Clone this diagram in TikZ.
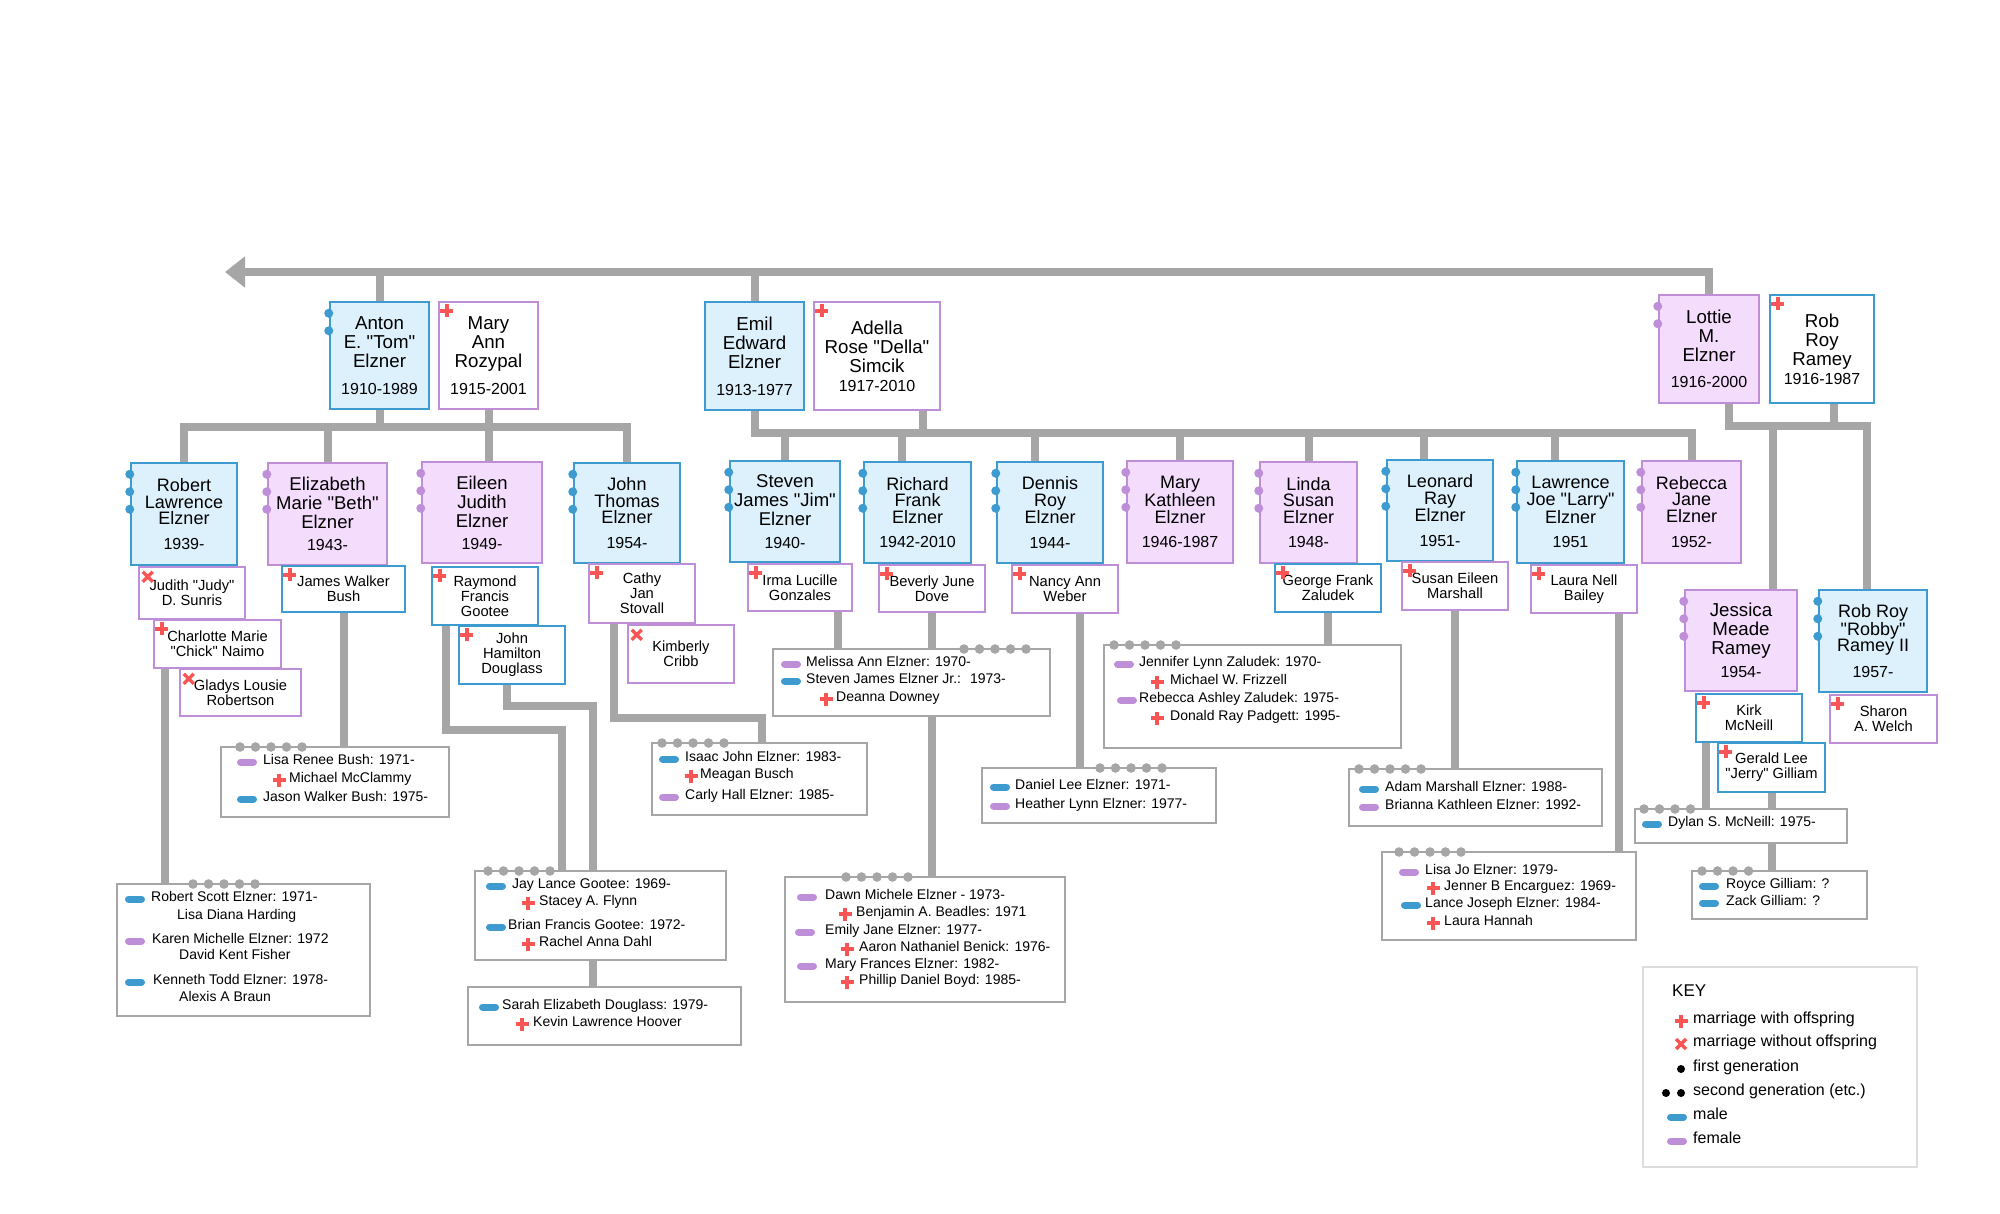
\documentclass[tikz,border=0pt]{standalone}
\usepackage{fontspec}
\setmainfont{Liberation Sans}[Ligatures=TeXOff]
\usepackage{tikz}
\usetikzlibrary{calc, arrows.meta, backgrounds}
\usepackage{xcolor}

\definecolor{mline}{HTML}{3D9BD0}
\definecolor{mfill}{HTML}{DDF1FC}
\definecolor{fline}{HTML}{BF8ED8}
\definecolor{ffill}{HTML}{F4DCFD}
\definecolor{cord}{HTML}{A6A6A6}
\definecolor{wedred}{HTML}{FA5555}
\definecolor{keyline}{HTML}{DDDDDD}

\newcommand{\bigname}{\fontsize{18.7}{19}\selectfont}
\newcommand{\tallname}{\fontsize{18.5}{19}\selectfont}
\newcommand{\kidname}{\fontsize{18}{16.5}\selectfont}
\newcommand{\yr}{\fontsize{16}{16}\selectfont}
\newcommand{\inlaw}{\fontsize{14.7}{15}\selectfont}
\newcommand{\listfont}{\fontsize{14}{14}\selectfont}
\newcommand{\keyfont}{\fontsize{16}{16}\selectfont}

\tikzset{
  man/.style={draw=mline, fill=mfill, line width=2.5pt, align=center, inner sep=1pt},
  woman/.style={draw=fline, fill=ffill, line width=2.5pt, align=center, inner sep=1pt},
  husband/.style={draw=mline, fill=white, line width=2.5pt, align=center, inner sep=1pt, font=\inlaw},
  wife/.style={draw=fline, fill=white, line width=2.5pt, align=center, inner sep=1pt, font=\inlaw},
  kidsbox/.style={draw=cord, fill=white, line width=2.5pt},
  keyframe/.style={draw=keyline, fill=white, line width=2.5pt},
  link/.style={draw=cord, line width=8pt},
  pill/.style={line width=7pt, line cap=round},
  wedline/.style={draw=wedred, line width=3.5pt},
  entry/.style={anchor=mid west, inner sep=0pt, font=\listfont},
  keyentry/.style={anchor=mid west, inner sep=0pt, font=\keyfont}
}

% box from left, right, top, bottom
\newcommand{\famnode}[7]{\node[#1, minimum width={#4-#3}, minimum height={#6-#5}] (#2) at ({(#3+#4)/2},{(#5+#6)/2}) {#7};}
\newcommand{\gens}[3]{\foreach \g in {1,...,#2} \fill[#3] ($(#1.north west)+(0,{-5+17.5*\g})$) circle (4.5pt);}
\newcommand{\wedmark}[1]{\draw[wedline] ($(#1.north west)+(2.5,10)$) -- ++(13,0) ($(#1.north west)+(9,3.5)$) -- ++(0,13);}
\newcommand{\nowedmark}[1]{\draw[wedline] ($(#1.north west)+(5,6)$) -- ++(10,10) ($(#1.north west)+(15,6)$) -- ++(-10,10);}
\newcommand{\topdots}[3]{\foreach \d in {1,...,#3} \fill[cord] ({#1+15.5*(\d-1)},#2) circle (4.8pt);}

\newcount\entryno
\newcommand{\kid}[5]{\global\advance\entryno by 1
  \draw[pill, #1] (#2-6.5,#3) -- (#2+6.5,#3);
  \node[entry] (entry\the\entryno) at (#4,#3) {#5};}
\newcommand{\wed}[4]{\global\advance\entryno by 1
  \draw[wedline] (#1-6.5,#2) -- (#1+6.5,#2) (#1,#2-6.5) -- (#1,#2+6.5);
  \node[entry] (entry\the\entryno) at (#3,#2) {#4};}
\newcommand{\plainentry}[3]{\global\advance\entryno by 1
  \node[entry] (entry\the\entryno) at (#1,#2) {#3};}

\begin{document}
\begin{tikzpicture}[x=1pt, y=-1pt]
\useasboundingbox (0,0) rectangle (2000,1213);

% first generation
\famnode{man,font=\bigname}{anton}{330}{429}{302}{409}{Anton\\E. "Tom"\\Elzner\\[8pt]{\yr 1910-1989}}
\famnode{wife,font=\bigname}{maryann}{439}{538}{302}{409}{Mary\\Ann\\Rozypal\\[8pt]{\yr 1915-2001}}
\famnode{man,font=\bigname}{emil}{705}{804}{302}{410}{Emil\\Edward\\Elzner\\[8pt]{\yr 1913-1977}}
\famnode{wife,font=\bigname}{adella}{814}{940}{302}{410}{Adella\\Rose "Della"\\Simcik\\{\yr 1917-2010}}
\famnode{woman,font=\bigname}{lottie}{1659}{1759}{295}{403}{Lottie\\M.\\Elzner\\[7pt]{\yr 1916-2000}}
\famnode{husband,font=\bigname}{robroy}{1770}{1874}{295}{403}{Rob\\Roy\\Ramey\\{\yr 1916-1987}}
\gens{anton}{2}{mline}
\gens{lottie}{2}{fline}
\wedmark{maryann}
\wedmark{adella}
\wedmark{robroy}

% Anton's children
\famnode{man,font=\kidname}{robert}{131}{237}{463}{565}{Robert\\Lawrence\\Elzner\\[8pt]{\yr 1939-}}
\famnode{woman,font=\tallname}{elizabeth}{268}{387}{463}{565}{Elizabeth\\Marie "Beth"\\Elzner\\[3pt]{\yr 1943-}}
\famnode{woman,font=\tallname}{eileen}{422}{542}{462}{563}{Eileen\\Judith\\Elzner\\[3pt]{\yr 1949-}}
\famnode{man,font=\kidname}{john}{574}{680}{463}{563}{John\\Thomas\\Elzner\\[8pt]{\yr 1954-}}

% Emil's children
\famnode{man,font=\tallname}{steven}{730}{840}{461}{562}{Steven\\James "Jim"\\Elzner\\[4pt]{\yr 1940-}}
\famnode{man,font=\kidname}{richard}{864}{971}{462}{563}{Richard\\Frank\\Elzner\\[8pt]{\yr 1942-2010}}
\famnode{man,font=\kidname}{dennis}{997}{1103}{462}{563}{Dennis\\Roy\\Elzner\\[8pt]{\yr 1944-}}
\famnode{woman,font=\kidname}{marykath}{1127}{1233}{461}{563}{Mary\\Kathleen\\Elzner\\[8pt]{\yr 1946-1987}}
\famnode{woman,font=\kidname}{linda}{1260}{1357}{462}{563}{Linda\\Susan\\Elzner\\[8pt]{\yr 1948-}}
\famnode{man,font=\kidname}{leonard}{1387}{1493}{460}{561}{Leonard\\Ray\\Elzner\\[8pt]{\yr 1951-}}
\famnode{man,font=\kidname}{larry}{1517}{1624}{461}{563}{Lawrence\\Joe "Larry"\\Elzner\\[8pt]{\yr 1951}}
\famnode{woman,font=\kidname}{rebecca}{1642}{1741}{461}{563}{Rebecca\\Jane\\Elzner\\[9pt]{\yr 1952-}}

% Lottie's children
\famnode{woman,font=\bigname}{jessica}{1685}{1797}{590}{691}{Jessica\\Meade\\Ramey\\[4pt]{\yr 1954-}}
\famnode{man,font=\kidname}{robby}{1819}{1927}{590}{692}{Rob Roy\\"Robby"\\Ramey II\\[9pt]{\yr 1957-}}

\foreach \n in {robert, john, steven, richard, dennis, leonard, larry, robby} {\gens{\n}{3}{mline}}
\foreach \n in {elizabeth, eileen, marykath, linda, rebecca, jessica} {\gens{\n}{3}{fline}}

% spouses of the children
\famnode{wife}{judith}{139}{245}{567}{619}{Judith "Judy"\\D. Sunris}
\nowedmark{judith}
\famnode{wife}{charlotte}{154}{281}{620}{668}{Charlotte Marie\\"Chick" Naimo}
\wedmark{charlotte}
\famnode{wife}{gladys}{180}{301}{669}{716}{Gladys Lousie\\Robertson}
\nowedmark{gladys}
\famnode{husband}{james}{282}{405}{566}{612}{James Walker\\Bush}
\wedmark{james}
\famnode{husband}{raymond}{432}{538}{567}{625}{Raymond\\Francis\\Gootee}
\wedmark{raymond}
\famnode{husband}{douglass}{459}{565}{626}{684}{John\\Hamilton\\Douglass}
\wedmark{douglass}
\famnode{wife}{cathy}{589}{695}{564}{623}{Cathy\\Jan\\Stovall}
\wedmark{cathy}
\famnode{wife}{kimberly}{628}{734}{625}{683}{Kimberly\\Cribb}
\nowedmark{kimberly}
\famnode{wife}{irma}{748}{852}{564}{611}{Irma Lucille\\Gonzales}
\wedmark{irma}
\famnode{wife}{beverly}{879}{985}{565}{612}{Beverly June\\Dove}
\wedmark{beverly}
\famnode{wife}{nancy}{1012}{1118}{565}{613}{Nancy Ann\\Weber}
\wedmark{nancy}
\famnode{husband}{george}{1275}{1381}{564}{612}{George Frank\\Zaludek}
\wedmark{george}
\famnode{wife}{susan}{1402}{1508}{562}{610}{Susan Eileen\\Marshall}
\wedmark{susan}
\famnode{wife}{laura}{1531}{1637}{565}{613}{Laura Nell\\Bailey}
\wedmark{laura}
\famnode{husband}{kirk}{1696}{1802}{694}{742}{Kirk\\McNeill}
\wedmark{kirk}
\famnode{husband}{gerald}{1718}{1825}{743}{792}{Gerald Lee\\"Jerry" Gilliam}
\wedmark{gerald}
\famnode{wife}{sharon}{1830}{1937}{695}{743}{Sharon\\A. Welch}
\wedmark{sharon}

% grandchildren lists
\famnode{kidsbox}{robkids}{117}{370}{884}{1016}{}
\famnode{kidsbox}{bushkids}{221}{449}{747}{817}{}
\famnode{kidsbox}{gootkids}{475}{726}{871}{960}{}
\famnode{kidsbox}{sarahkids}{468}{741}{987}{1045}{}
\famnode{kidsbox}{isaackids}{652}{867}{743}{815}{}
\famnode{kidsbox}{melkids}{773}{1050}{649}{716}{}
\famnode{kidsbox}{dawnkids}{785}{1065}{877}{1002}{}
\famnode{kidsbox}{danielkids}{982}{1216}{768}{823}{}
\famnode{kidsbox}{jenkids}{1104}{1401}{645}{748}{}
\famnode{kidsbox}{adamkids}{1349}{1602}{769}{826}{}
\famnode{kidsbox}{lisakids}{1382}{1636}{852}{940}{}
\famnode{kidsbox}{dylankids}{1635}{1847}{809}{843}{}
\famnode{kidsbox}{roycekids}{1692}{1867}{871}{919}{}

\topdots{193}{884}{5}
\topdots{240}{747}{5}
\topdots{488}{871}{5}
\topdots{662}{743}{5}
\topdots{964}{649}{5}
\topdots{846}{877}{5}
\topdots{1100}{768}{5}
\topdots{1114}{645}{5}
\topdots{1359}{769}{5}
\topdots{1399}{852}{5}
\topdots{1644}{809}{4}
\topdots{1702}{871}{4}

\kid{mline}{135}{899}{151}{Robert Scott Elzner: 1971-}
\plainentry{177}{917}{Lisa Diana Harding}
\kid{fline}{135}{941}{152}{Karen Michelle Elzner: 1972}
\plainentry{179}{957}{David Kent Fisher}
\kid{mline}{135}{982}{153}{Kenneth Todd Elzner: 1978-}
\plainentry{179}{999}{Alexis A Braun}

\kid{fline}{247}{762}{263}{Lisa Renee Bush: 1971-}
\wed{279}{780}{289}{Michael McClammy}
\kid{mline}{247}{799}{263}{Jason Walker Bush: 1975-}

\kid{mline}{496}{886}{512}{Jay Lance Gootee: 1969-}
\wed{528}{903}{539}{Stacey A. Flynn}
\kid{mline}{496}{927}{508}{Brian Francis Gootee: 1972-}
\wed{528}{944}{539}{Rachel Anna Dahl}

\kid{mline}{489}{1007}{502}{Sarah Elizabeth Douglass: 1979-}
\wed{522}{1024}{533}{Kevin Lawrence Hoover}

\kid{mline}{669}{759}{685}{Isaac John Elzner: 1983-}
\wed{691}{776}{700}{Meagan Busch}
\kid{fline}{669}{797}{685}{Carly Hall Elzner: 1985-}

\kid{fline}{791}{664}{806}{Melissa Ann Elzner: 1970-}
\kid{mline}{791}{681}{806}{Steven James Elzner Jr.:~ 1973-}
\wed{826}{699}{836}{Deanna Downey}

\kid{fline}{807}{897}{825}{Dawn Michele Elzner - 1973-}
\wed{845}{914}{856}{Benjamin A. Beadles: 1971}
\kid{fline}{805}{932}{825}{Emily Jane Elzner: 1977-}
\wed{847}{949}{859}{Aaron Nathaniel Benick: 1976-}
\kid{fline}{807}{966}{825}{Mary Frances Elzner: 1982-}
\wed{847}{982}{859}{Phillip Daniel Boyd: 1985-}

\kid{mline}{1000}{787}{1015}{Daniel Lee Elzner: 1971-}
\kid{fline}{1000}{806}{1015}{Heather Lynn Elzner: 1977-}

\kid{fline}{1124}{664}{1139}{Jennifer Lynn Zaludek: 1970-}
\wed{1157}{682}{1170}{Michael W. Frizzell}
\kid{fline}{1127}{700}{1139}{Rebecca Ashley Zaludek: 1975-}
\wed{1157}{718}{1170}{Donald Ray Padgett: 1995-}

\kid{mline}{1369}{789}{1385}{Adam Marshall Elzner: 1988-}
\kid{fline}{1369}{807}{1385}{Brianna Kathleen Elzner: 1992-}

\kid{fline}{1409}{872}{1425}{Lisa Jo Elzner: 1979-}
\wed{1433}{888}{1444}{Jenner B Encarguez: 1969-}
\kid{mline}{1411}{905}{1425}{Lance Joseph Elzner: 1984-}
\wed{1433}{923}{1444}{Laura Hannah}

\kid{mline}{1652}{824}{1668}{Dylan S. McNeill: 1975-}

\kid{mline}{1709}{886}{1726}{Royce Gilliam: ?}
\kid{mline}{1709}{903}{1726}{Zack Gilliam: ?}

% key
\famnode{keyframe}{keybox}{1643}{1917}{967}{1167}{}
\node[anchor=mid west, inner sep=0pt, font=\fontsize{17}{17}\selectfont] (keytitle) at (1672,994) {KEY};
\draw[wedline] (1674.5,1021) -- (1687.5,1021) (1681,1014.5) -- (1681,1027.5);
\node[keyentry] (keyplus) at (1693,1021) {marriage with offspring};
\draw[wedline] (1676,1039) -- (1686,1049) (1686,1039) -- (1676,1049);
\node[keyentry] (keycross) at (1693,1044) {marriage without offspring};
\fill (1681,1069) circle (4pt);
\node[keyentry] (keyfirst) at (1693,1069) {first generation};
\fill (1666,1093) circle (4pt) (1681,1093) circle (4pt);
\node[keyentry] (keysecond) at (1693,1093) {second generation (etc.)};
\draw[pill, mline] (1670.5,1117) -- (1683.5,1117);
\node[keyentry] (keymale) at (1693,1117) {male};
\draw[pill, fline] (1670.5,1141) -- (1683.5,1141);
\node[keyentry] (keyfemale) at (1693,1141) {female};

% connectors behind the boxes
\coordinate (arrowend) at (225,272);
\coordinate (antbar) at (0,427);
\coordinate (emilbar) at (0,433);
\coordinate (rambar) at (0,426);
\coordinate (raybend) at (562,730);
\coordinate (dougbend) at (593,706);
\coordinate (cathbend) at (762,718);
\coordinate (lotdrop) at ($(lottie.south)+(20,0)$);
\coordinate (robbydrop) at ($(robby.north)+(-6,0)$);

\begin{scope}[on background layer]
  \fill[white] (0,0) rectangle (2000,1213);
  \draw[link, -{Triangle[length=20pt,width=30pt]}] (lottie.north) -- (lottie.north |- arrowend) -- (arrowend);
  \draw[link] (anton.north) -- (anton.north |- arrowend);
  \draw[link] (emil.north) -- (emil.north |- arrowend);
  % Anton and Mary Ann
  \draw[link] (robert.north) -- (robert.north |- antbar) -- (john.north |- antbar) -- (john.north);
  \draw[link] (anton.south) -- (anton.south |- antbar);
  \draw[link] (maryann.south) -- (maryann.south |- eileen.north);
  \draw[link] (elizabeth.north) -- (elizabeth.north |- antbar);
  % Emil and Adella
  \draw[link] (emil.south) -- (emil.south |- emilbar) -- (rebecca.north |- emilbar) -- (rebecca.north);
  \draw[link] ($(adella.south)+(46,0)$) -- ($(adella.south |- emilbar)+(46,0)$);
  \draw[link] (steven.north) -- (steven.north |- emilbar);
  \draw[link] ($(richard.north)+(-16,0)$) -- ($(richard.north |- emilbar)+(-16,0)$);
  \draw[link] ($(dennis.north)+(-15,0)$) -- ($(dennis.north |- emilbar)+(-15,0)$);
  \draw[link] (marykath.north) -- (marykath.north |- emilbar);
  \draw[link] (linda.north) -- (linda.north |- emilbar);
  \draw[link] ($(leonard.north)+(-16,0)$) -- ($(leonard.north |- emilbar)+(-16,0)$);
  \draw[link] ($(larry.north)+(-16,0)$) -- ($(larry.north |- emilbar)+(-16,0)$);
  % Lottie and Rob Roy
  \draw[link] (lotdrop) -- (lotdrop |- rambar) -- (robbydrop |- rambar) -- (robbydrop);
  \draw[link] ($(robroy.south)+(12,0)$) -- ($(robroy.south |- rambar)+(12,0)$);
  \draw[link] ($(jessica.north)+(32,0)$) -- ($(jessica.north |- rambar)+(32,0)$);
  % down to the grandchildren
  \draw[link] ($(charlotte.south west)+(12,0)$) -- ($(charlotte.south west |- robkids.north)+(12,0)$);
  \draw[link] (james.south) -- (james.south |- bushkids.north);
  \draw[link] ($(raymond.south west)+(15,0)$) -- ($(raymond.south west |- raybend)+(15,0)$) -- (raybend) -- (raybend |- gootkids.north);
  \draw[link] ($(douglass.south)+(-5,0)$) -- ($(douglass.south |- dougbend)+(-5,0)$) -- (dougbend) -- (dougbend |- sarahkids.north);
  \draw[link] ($(cathy.south west)+(26,0)$) -- ($(cathy.south west |- cathbend)+(26,0)$) -- (cathbend) -- (cathbend |- isaackids.north);
  \draw[link] ($(irma.south east)+(-15,0)$) -- ($(irma.south east |- melkids.north)+(-15,0)$);
  \draw[link] (beverly.south) -- (beverly.south |- dawnkids.north);
  \draw[link] ($(nancy.south)+(15,0)$) -- ($(nancy.south |- danielkids.north)+(15,0)$);
  \draw[link] (george.south) -- (george.south |- jenkids.north);
  \draw[link] (susan.south) -- (susan.south |- adamkids.north);
  \draw[link] ($(laura.south)+(35,0)$) -- ($(laura.south |- lisakids.north)+(35,0)$);
  \draw[link] ($(kirk.south west)+(11,0)$) -- ($(kirk.south west |- dylankids.north)+(11,0)$);
  \draw[link] (gerald.south) -- (gerald.south |- roycekids.north);
\end{scope}
\end{tikzpicture}
\end{document}
